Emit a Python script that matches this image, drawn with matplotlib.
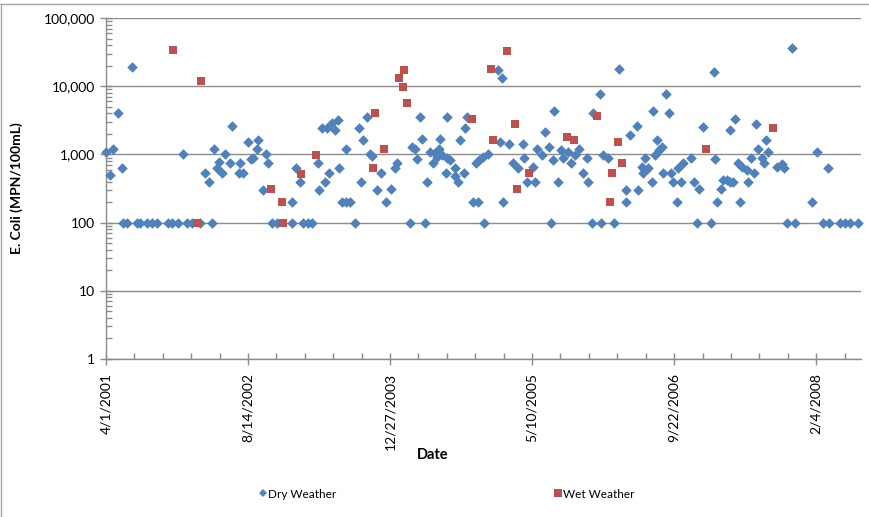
import matplotlib
matplotlib.use("Agg")
import matplotlib.pyplot as plt
import matplotlib.dates as mdates
from matplotlib.ticker import FixedLocator, FuncFormatter, LogLocator, NullFormatter
from matplotlib.lines import Line2D
import numpy as np
import pandas as pd

plt.rcParams['font.family'] = ['Lato', 'DejaVu Sans']

start_date = "2001-04-01"
# days after 4/1/2001 and E. coli (MPN/100mL)
dry_days = [0, 14, 25, 42, 56, 92, 60, 74, 109, 120, 144, 162, 180, 218, 232, 254, 285, 303, 331, 373,
            271, 349, 363, 380, 391, 398, 408, 419, 437, 444, 472, 468, 482, 500, 511, 518, 535, 532, 563, 570,
            553, 584, 602, 655, 655, 669, 683, 694, 711, 725, 746, 750, 761, 778, 771, 785, 796, 806, 817, 820,
            831, 845, 859, 845, 877, 891, 898, 905, 919, 930, 937, 954, 968, 986, 1003, 1018, 1025, 1070, 1077, 1088,
            1095, 1106, 1113, 1123, 1130, 1141, 1158, 1172, 1165, 1183, 1201, 1211, 1151, 1176, 1201, 1197, 1229, 1229, 1239, 1260,
            1246, 1264, 1271, 1292, 1310, 1303, 1313, 1327, 1345, 1331, 1380, 1394, 1387, 1419, 1398, 1433, 1451, 1468, 1472, 1482,
            1511, 1503, 1518, 1535, 1546, 1560, 1567, 1577, 1574, 1592, 1602, 1609, 1627, 1637, 1651, 1665, 1694, 1680, 1697, 1711,
            1743, 1715, 1739, 1750, 1768, 1789, 1806, 1831, 1831, 1845, 1870, 1873, 1887, 1891, 1898, 1908, 1922, 1926, 1940, 1933,
            1947, 1958, 1961, 1989, 1996, 1972, 1982, 2010, 2014, 2031, 2060, 2025, 2071, 2088, 2081, 2130, 2102, 2141, 2144, 2151,
            2165, 2172, 2187, 2197, 2208, 2197, 2215, 2232, 2225, 2239, 2257, 2260, 2271, 2282, 2289, 2296, 2310, 2317, 2324, 2331,
            2363, 2380, 2387, 2398, 2426, 2415, 2486, 2503, 2542, 2525, 2546, 2584, 2602, 2620, 2648]
dry_ecoli = [1100, 500, 1200, 4000, 630, 19000, 100, 100, 100, 100, 100, 100, 100, 100, 100, 100, 100, 100, 100, 100,
             1000, 530, 400, 1200, 630, 770, 530, 1000, 740, 2600, 740, 530, 530, 1500, 850, 880, 1600, 1200, 1000, 740,
             300, 100, 100, 100, 200, 630, 400, 100, 100, 100, 740, 300, 2400, 2400, 400, 530, 2900, 2250, 3200, 630,
             200, 200, 200, 1200, 100, 2400, 400, 1600, 3500, 1000, 940, 300, 530, 200, 310, 630, 740, 100, 1300, 1200,
             850, 3500, 1700, 100, 400, 1100, 1040, 1200, 910, 970, 880, 820, 740, 1700, 3500, 530, 630, 490, 400, 530,
             1600, 2400, 3500, 200, 200, 740, 820, 910, 1000, 100, 17000, 13000, 1500, 1400, 200, 740, 630, 1400, 880, 400,
             400, 650, 1200, 970, 2100, 1300, 100, 4400, 820, 400, 1150, 880, 1070, 740, 970, 1200, 880, 530, 400, 100,
             100, 4100, 7800, 970, 880, 100, 18000, 300, 200, 1900, 2600, 300, 650, 530, 880, 630, 400, 4300, 1600, 970,
             1150, 1270, 530, 530, 400, 7800, 4000, 200, 630, 740, 880, 400, 400, 310, 100, 100, 2500, 16000, 850, 200,
             310, 420, 420, 400, 400, 2300, 3300, 200, 740, 650, 600, 400, 880, 530, 2800, 1200, 880, 740, 1600, 1100,
             650, 720, 630, 100, 100, 36000, 200, 1100, 630, 100, 100, 100, 100, 100, 100]
wet_days = [236, 334, 320, 581, 620, 623, 687, 739, 947, 979, 940, 1032, 1049, 1046, 1060, 1289,
            1356, 1412, 1363, 1440, 1447, 1489, 1623, 1648, 1729, 1782, 1775, 1803, 1817, 2113, 2348]
wet_ecoli = [34000, 12000, 100, 310, 200, 100, 520, 970, 4100, 1200, 630, 13000, 17000, 9600, 5600, 3300,
             18000, 33000, 1600, 2800, 310, 530, 1800, 1600, 3700, 530, 200, 1500, 740, 1200, 2400]
axis_end_days = 2658
tick_step_days = 500
minor_step_days = 100
y_ticks = [1, 10, 100, 1000, 10000, 100000]

t0 = pd.Timestamp(start_date)
dry_dates = [t0 + pd.Timedelta(days=d) for d in dry_days]
wet_dates = [t0 + pd.Timedelta(days=d) for d in wet_days]

W, H = 870, 517
fig = plt.figure(figsize=(W / 100, H / 100), dpi=100)
ax = fig.add_axes([106 / W, 1 - 359 / H, (861 - 106) / W, (359 - 18) / H])

blue = '#4F81BD'
red = '#C0504D'
grid_c = '#8C8C8C'

ax.scatter(dry_dates, dry_ecoli, marker='D', s=29, color=blue, linewidths=0, zorder=3, clip_on=False)
ax.scatter(wet_dates, wet_ecoli, marker='s', s=36, color=red, linewidths=0, zorder=4, clip_on=False)

ax.set_yscale('log')
ax.set_ylim(1, 100000)
x0 = mdates.date2num(t0)
ax.set_xlim(x0, x0 + axis_end_days)

ax.yaxis.set_major_locator(FixedLocator(y_ticks))
ax.yaxis.set_major_formatter(FuncFormatter(lambda v, p: f"{int(round(v)):,}"))
ax.yaxis.set_minor_locator(LogLocator(base=10, subs=np.arange(2, 10)))
ax.yaxis.set_minor_formatter(NullFormatter())

major_x = [x0 + k * tick_step_days for k in range(0, axis_end_days // tick_step_days + 1)]
minor_x = [x0 + k * minor_step_days for k in range(0, axis_end_days // minor_step_days + 1)]
ax.xaxis.set_major_locator(FixedLocator(major_x))
ax.xaxis.set_minor_locator(FixedLocator(minor_x))


def fmt_date(v, p):
    d = mdates.num2date(v)
    return f"{d.month}/{d.day}/{d.year}"


ax.xaxis.set_major_formatter(FuncFormatter(fmt_date))
ax.xaxis.set_minor_formatter(NullFormatter())

for lab in ax.get_xticklabels():
    lab.set_rotation(90)

ax.grid(True, axis='y', which='major', color=grid_c, linewidth=1.0, zorder=0)
ax.set_axisbelow(True)

for s in ['top', 'right']:
    ax.spines[s].set_visible(False)
for s in ['left', 'bottom']:
    ax.spines[s].set_color(grid_c)
    ax.spines[s].set_linewidth(1.0)

ax.tick_params(axis='both', which='major', direction='inout', length=8, width=1, color=grid_c,
               labelsize=10, labelcolor='black')
ax.tick_params(axis='both', which='minor', direction='in', length=4, width=1, color=grid_c)
ax.tick_params(axis='x', which='major', pad=6)
ax.tick_params(axis='y', which='major', pad=4)

fig.text(17 / W, 1 - 188 / H, 'E. Coli (MPN/100mL)', rotation=90, ha='center', va='center',
         fontsize=10, fontweight='bold')
fig.text(433 / W, 1 - 455 / H, 'Date', ha='center', va='center', fontsize=10.5, fontweight='bold')

handles = [Line2D([], [], marker='D', linestyle='none', color=blue, markersize=4.5, markeredgewidth=0),
           Line2D([], [], marker='s', linestyle='none', color=red, markersize=6, markeredgewidth=0)]
leg = fig.legend(handles, ['Dry Weather', 'Wet Weather'], loc='center', bbox_to_anchor=(447 / W, 1 - 494 / H),
                 ncol=2, frameon=False, fontsize=8.5, handlelength=0.5, handletextpad=0.2, columnspacing=18.5)

fig.add_artist(Line2D([0, 1], [1 - 4 / H, 1 - 4 / H], transform=fig.transFigure, color='#A6A6A6', linewidth=1))
fig.add_artist(Line2D([0.6 / W, 0.6 / W], [0, 1 - 4 / H], transform=fig.transFigure, color='#A6A6A6', linewidth=1))

fig.savefig('out.png', dpi=100)
